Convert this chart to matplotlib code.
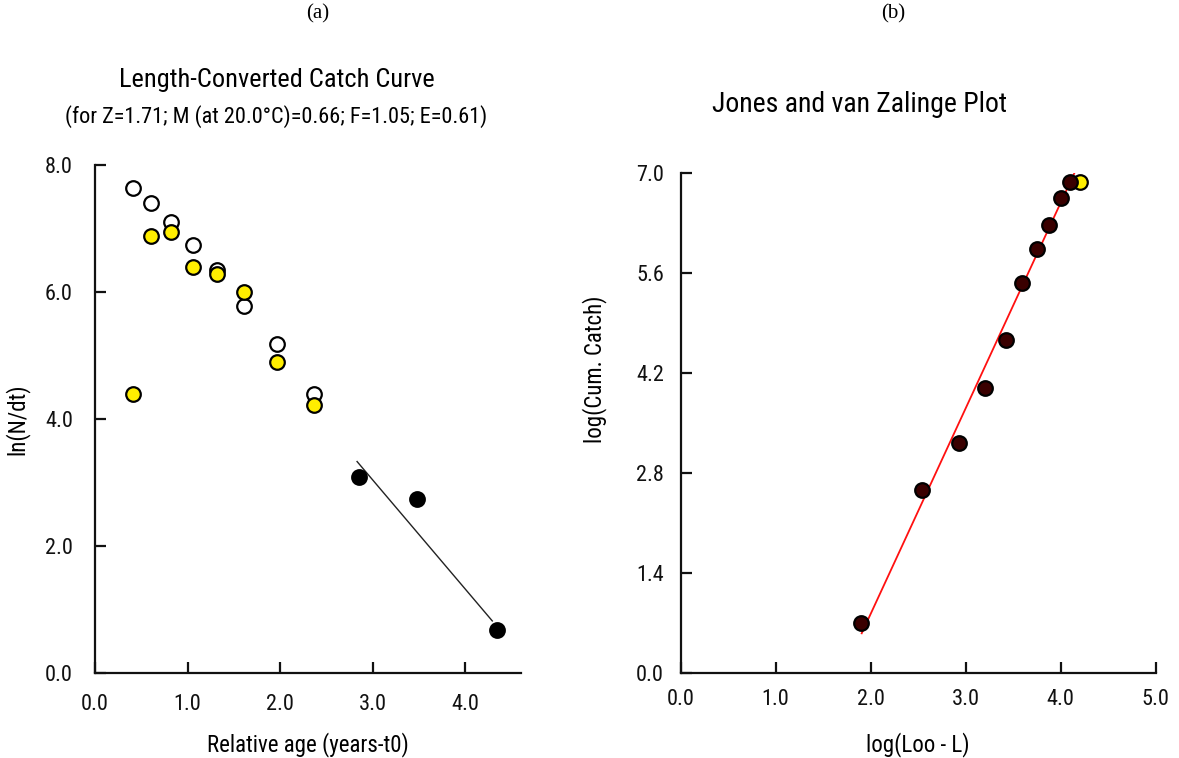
import matplotlib
matplotlib.use("Agg")
import matplotlib.pyplot as plt
from matplotlib import font_manager

# pick a narrow sans font if one is installed
_fonts = font_manager.fontManager.ttflist
_names = {f.name for f in _fonts}
NARROW = None
for cand in ['Liberation Sans Narrow', 'Arial Narrow', 'Roboto Condensed', 'Open Sans Condensed']:
    if cand in _names:
        NARROW = cand
        break
STRETCH = 'normal'
if NARROW is None:
    for f in _fonts:
        if f.name == 'DejaVu Sans' and str(f.stretch) in ('condensed', 'semi-condensed', '75', '87.5'):
            NARROW = 'DejaVu Sans'
            STRETCH = 'condensed'
            break
if NARROW is None:
    NARROW = 'Roboto'
plt.rcParams['font.family'] = [NARROW, 'Liberation Sans', 'DejaVu Sans']
plt.rcParams['font.stretch'] = STRETCH

# ---- Panel (a): Length-converted catch curve ----
age_open = [0.41, 0.60, 0.82, 1.06, 1.32, 1.61, 1.96, 2.36]
lnN_open = [7.63, 7.40, 7.11, 6.74, 6.35, 5.78, 5.18, 4.39]
age_yellow = [0.41, 0.60, 0.82, 1.06, 1.32, 1.61, 1.96, 2.36]
lnN_yellow = [4.39, 6.88, 6.95, 6.39, 6.28, 6.00, 4.89, 4.22]
age_black = [2.85, 3.48, 4.34]
lnN_black = [3.09, 2.74, 0.67]
reg_age = [2.83, 4.29]
reg_lnN = [3.33, 0.82]
a_xticks = [0.0, 1.0, 2.0, 3.0, 4.0]
a_yticks = [0.0, 2.0, 4.0, 6.0, 8.0]

# ---- Panel (b): Jones and van Zalinge plot ----
logLL = [4.10, 4.005, 3.88, 3.755, 3.59, 3.43, 3.20, 2.93, 2.54, 1.90]
logC = [6.88, 6.65, 6.28, 5.94, 5.47, 4.66, 4.00, 3.23, 2.57, 0.71]
logLL_excl = [4.205]
logC_excl = [6.88]
fit_x = [1.906, 4.176]
fit_y = [0.56, 7.09]
b_xticks = [0.0, 1.0, 2.0, 3.0, 4.0, 5.0]
b_yticks = [0.0, 1.4, 2.8, 4.2, 5.6, 7.0]

W, H = 1179, 758
fig = plt.figure(figsize=(W / 100, H / 100), dpi=100)

TICK_FS = 16
LAB_FS = 16.5

def style(ax):
    for s in ['top', 'right']:
        ax.spines[s].set_visible(False)
    for s in ['left', 'bottom']:
        ax.spines[s].set_linewidth(1.6)
        ax.spines[s].set_color('#111111')
    ax.tick_params(direction='in', length=8, width=1.6, labelsize=TICK_FS, colors='#111111')

# Panel (a)
ax1 = fig.add_axes([95 / W, 1 - 673 / H, (521 - 95) / W, (673 - 165) / H])
style(ax1)
ax1.set_xlim(0, 4.6)
ax1.set_ylim(0, 8.0)
ax1.set_xticks(a_xticks)
ax1.set_xticklabels([f"{v:.1f}" for v in a_xticks])
ax1.set_yticks(a_yticks)
ax1.set_yticklabels([f"{v:.1f}" for v in a_yticks])
ax1.tick_params(axis='x', pad=15)
ax1.tick_params(axis='y', pad=16)
ax1.plot(reg_age, reg_lnN, color='#222222', lw=1.0, zorder=2)
ms = 10.5
ax1.plot(age_open, lnN_open, 'o', ms=ms, mfc='white', mec='black', mew=1.6, clip_on=False, zorder=3)
ax1.plot(age_yellow, lnN_yellow, 'o', ms=ms, mfc='#FFEE00', mec='black', mew=1.6, clip_on=False, zorder=4)
ax1.plot(age_black, lnN_black, 'o', ms=ms, mfc='black', mec='black', mew=1.6, clip_on=False, zorder=4)
ax1.set_xlabel('Relative age (years-t0)', fontsize=LAB_FS)
ax1.xaxis.set_label_coords(0.5, -0.116)
ax1.set_ylabel('ln(N/dt)', fontsize=LAB_FS)
ax1.yaxis.set_label_coords(-0.155, 0.5)
fig.text(277 / W, 1 - 80 / H, 'Length-Converted Catch Curve', ha='center', va='center', fontsize=19)
fig.text(276 / W, 1 - 117 / H, '(for Z=1.71; M (at 20.0°C)=0.66; F=1.05; E=0.61)',
         ha='center', va='center', fontsize=16)

# Panel (b)
ax2 = fig.add_axes([680.7 / W, 1 - 673.3 / H, (1155.5 - 680.7) / W, (673.3 - 173.3) / H])
style(ax2)
ax2.set_xlim(0, 5.0)
ax2.set_ylim(0, 7.0)
ax2.set_xticks(b_xticks)
ax2.set_xticklabels([f"{v:.1f}" for v in b_xticks])
ax2.set_yticks(b_yticks)
ax2.set_yticklabels([f"{v:.1f}" for v in b_yticks])
ax2.tick_params(axis='x', pad=11)
ax2.tick_params(axis='y', pad=12)
ax2.plot(fit_x, fit_y, color='#FF1010', lw=1.3, zorder=2)
ax2.plot(logLL_excl, logC_excl, 'o', ms=ms, mfc='#FFEE00', mec='black', mew=1.6, clip_on=False, zorder=3)
ax2.plot(logLL, logC, 'o', ms=ms, mfc='#3A0000', mec='black', mew=1.6, clip_on=False, zorder=4)
ax2.set_xlabel('log(Loo - L)', fontsize=LAB_FS)
ax2.xaxis.set_label_coords(0.5, -0.118)
ax2.set_ylabel('log(Cum. Catch)', fontsize=LAB_FS)
ax2.yaxis.set_label_coords(-0.155, 0.607)
fig.text(860 / W, 1 - 105 / H, 'Jones and van Zalinge Plot', ha='center', va='center', fontsize=20)

# panel letters
fig.text(318 / W, 1 - 14 / H, '(a)', ha='center', va='center', fontsize=15,
         family=['Liberation Serif', 'DejaVu Serif'], stretch='normal')
fig.text(893 / W, 1 - 14 / H, '(b)', ha='center', va='center', fontsize=15,
         family=['Liberation Serif', 'DejaVu Serif'], stretch='normal')

fig.savefig('out.png', dpi=100)
